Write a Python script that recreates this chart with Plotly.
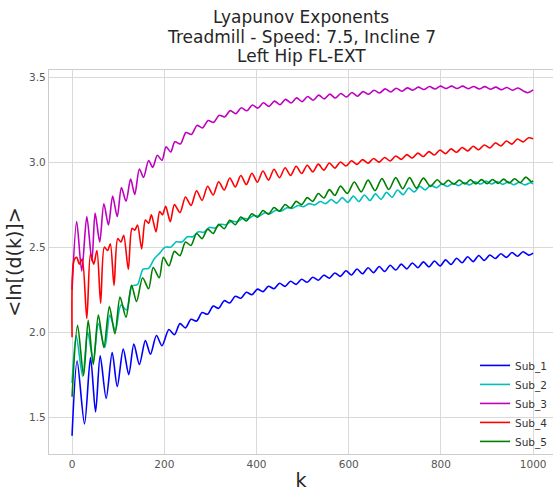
import plotly.graph_objects as go

# Lyapunov divergence curves, sampled at the peaks and troughs of each oscillation
SUB1_K = [0, 11, 27, 40, 51, 61, 74, 87, 98, 111, 123, 134, 146, 159, 170, 183, 195,
          210, 222, 234, 246, 258, 270, 282, 294, 306, 318, 330, 342, 354, 366, 378, 390,
          402, 414, 426, 438, 450, 462, 474, 486, 498, 510, 522, 534, 546, 558, 570, 582,
          594, 606, 618, 630, 642, 654, 666, 678, 690, 702, 714, 726, 738, 750, 762, 774,
          786, 798, 810, 822, 834, 846, 858, 870, 882, 894, 906, 918, 930, 942, 954, 966,
          978, 990, 1000]
SUB1_Y = [1.39, 1.83, 1.46, 1.85, 1.53, 1.86, 1.61, 1.88, 1.68, 1.90, 1.75, 1.93, 1.81, 1.95, 1.87, 1.98, 1.92,
          2.015, 1.985, 2.05, 2.025, 2.075, 2.065, 2.115, 2.105, 2.153, 2.14, 2.185, 2.171, 2.211, 2.199, 2.234, 2.22,
          2.253, 2.238, 2.27, 2.255, 2.287, 2.269, 2.299, 2.281, 2.311, 2.293, 2.323, 2.305, 2.335, 2.317, 2.348, 2.328,
          2.361, 2.336, 2.371, 2.343, 2.379, 2.35, 2.386, 2.357, 2.393, 2.365, 2.40, 2.372, 2.407, 2.379, 2.413, 2.384,
          2.418, 2.389, 2.425, 2.398, 2.435, 2.408, 2.443, 2.415, 2.451, 2.422, 2.454, 2.433, 2.461, 2.44, 2.468, 2.446,
          2.473, 2.453, 2.465]

SUB2_K = [0, 9, 23, 34, 46, 57, 71, 82, 94, 106, 118, 130, 142, 154, 166, 178, 190,
          202, 214, 226, 238, 250, 262, 274, 286, 298, 310, 322, 334, 346, 358, 370, 382,
          394, 406, 418, 430, 442, 454, 466, 478, 490, 502, 514, 526, 538, 550, 562, 574,
          586, 598, 610, 622, 634, 646, 658, 670, 682, 694, 706, 718, 730, 742, 754, 766,
          778, 790, 802, 814, 826, 838, 850, 862, 874, 886, 898, 910, 922, 934, 946, 958,
          970, 982, 994, 1000]
SUB2_Y = [1.70, 1.98, 1.74, 2.00, 1.83, 2.05, 1.91, 2.10, 2.01, 2.16, 2.13, 2.27, 2.28, 2.37, 2.375, 2.43, 2.465,
          2.50, 2.50, 2.531, 2.53, 2.561, 2.561, 2.59, 2.587, 2.616, 2.612, 2.634, 2.632, 2.653, 2.649, 2.669, 2.666,
          2.686, 2.682, 2.702, 2.697, 2.717, 2.712, 2.732, 2.728, 2.745, 2.738, 2.756, 2.748, 2.768, 2.756, 2.78, 2.759,
          2.791, 2.763, 2.80, 2.768, 2.807, 2.774, 2.813, 2.781, 2.822, 2.793, 2.836, 2.808, 2.848, 2.824, 2.858, 2.837,
          2.864, 2.849, 2.871, 2.857, 2.876, 2.862, 2.88, 2.866, 2.884, 2.871, 2.888, 2.871, 2.886, 2.869, 2.884, 2.867,
          2.882, 2.866, 2.879, 2.873]

SUB3_K = [0, 10, 21, 32, 43, 50, 60, 69, 79, 88, 98, 107, 117, 127, 136, 146, 155, 166, 175, 185, 195, 204, 214,
          223, 235, 247, 259, 271, 283, 295, 307, 319, 331, 343, 355, 367, 379, 391, 403, 415, 427, 439, 451,
          463, 475, 487, 499, 511, 523, 535, 547, 559, 571, 583, 595, 607, 619, 631, 643, 655, 667, 679, 691,
          703, 715, 727, 739, 751, 763, 775, 787, 799, 811, 823, 835, 847, 859, 871, 883, 895, 907, 919, 931,
          943, 955, 967, 979, 988, 1000]
SUB3_Y = [2.25, 2.65, 2.36, 2.68, 2.42, 2.70, 2.53, 2.755, 2.63, 2.80, 2.68, 2.85, 2.77, 2.90, 2.81, 2.96, 2.91,
          3.01, 2.97, 3.04, 3.01, 3.09, 3.06,
          3.12, 3.107, 3.174, 3.163, 3.216, 3.201, 3.245, 3.234, 3.276, 3.266, 3.303, 3.285, 3.32, 3.302, 3.336, 3.318,
          3.349, 3.328, 3.359, 3.338, 3.369, 3.348, 3.378, 3.356, 3.386, 3.364, 3.394, 3.372, 3.40, 3.377, 3.404, 3.383,
          3.41, 3.388, 3.415, 3.399, 3.423, 3.407, 3.431, 3.413, 3.435, 3.417, 3.437, 3.423, 3.441, 3.427, 3.445, 3.43,
          3.447, 3.433, 3.447, 3.433, 3.447, 3.432, 3.445, 3.43, 3.444, 3.429, 3.441, 3.426, 3.439, 3.423, 3.436,
          3.418, 3.408, 3.425]

SUB4_K = [0, 4, 10, 16, 22, 32, 40, 47, 54, 62, 70, 77, 83, 91, 99, 106, 112, 122, 130, 136, 142, 151, 159,
          166, 172, 182, 190, 196, 203, 213,
          222, 234, 246, 258, 270, 282, 294, 306, 318, 330, 342, 354, 366, 378, 390, 402, 414, 426, 438, 450,
          462, 474, 486, 498, 510, 522, 534, 546, 558, 570, 582, 594, 606, 618, 630, 642, 654, 666, 678, 690,
          702, 714, 726, 738, 750, 762, 774, 786, 798, 810, 822, 834, 846, 858, 870, 882, 894, 906, 918, 930,
          942, 954, 966, 978, 990, 1000]
SUB4_Y = [1.97, 2.42, 2.44, 2.40, 2.43, 2.08, 2.46, 2.40, 2.48, 2.17, 2.50, 2.48, 2.52, 2.275, 2.55, 2.53, 2.57,
          2.37, 2.61, 2.60, 2.63, 2.49, 2.66, 2.64, 2.69, 2.59, 2.71, 2.69, 2.74, 2.65,
          2.75, 2.703, 2.795, 2.745, 2.832, 2.775, 2.858, 2.807, 2.885, 2.836, 2.907, 2.854, 2.921, 2.868, 2.935,
          2.882, 2.948, 2.894, 2.958, 2.908, 2.967, 2.922, 2.976, 2.933, 2.982, 2.943, 2.988, 2.953, 2.995, 2.965,
          3.001, 2.977, 3.008, 2.987, 3.015, 2.994, 3.021, 3.0, 3.027, 3.007, 3.036, 3.016, 3.044, 3.024, 3.053,
          3.033, 3.062, 3.042, 3.071, 3.05, 3.078, 3.058, 3.086, 3.066, 3.093, 3.073, 3.101, 3.083, 3.113, 3.095,
          3.124, 3.106, 3.136, 3.119, 3.143, 3.138]

SUB5_K = [0, 12, 25, 35, 46, 57, 69, 81, 93, 104, 117, 129, 140, 153, 166, 176, 189, 198,
          210, 222, 234, 246, 258, 270, 282, 294, 306, 318, 330, 342, 354, 366, 378, 390, 402, 414, 426,
          438, 450, 462, 474, 486, 498, 510, 522, 534, 546, 558, 570, 582,
          597, 612, 627, 642, 657, 672, 687, 702, 717, 732, 747, 762, 777, 792,
          804, 816, 828, 840, 852, 864, 876, 888, 900, 912, 924, 936, 948, 960, 972, 984, 996, 1000]
SUB5_Y = [1.62, 2.04, 1.745, 2.07, 1.81, 2.10, 1.91, 2.15, 1.99, 2.206, 2.088, 2.275, 2.18, 2.32, 2.255, 2.38, 2.32, 2.44,
          2.39, 2.475, 2.45, 2.53, 2.51, 2.58, 2.55, 2.606, 2.58, 2.634, 2.608, 2.658, 2.632, 2.677, 2.654, 2.696, 2.676,
          2.715, 2.694, 2.733, 2.712, 2.751, 2.73, 2.769, 2.75, 2.791, 2.769, 2.815, 2.789, 2.838, 2.804, 2.859,
          2.816, 2.883, 2.825, 2.894, 2.832, 2.903, 2.839, 2.909, 2.843, 2.909, 2.847, 2.906, 2.857, 2.896,
          2.868, 2.893, 2.87, 2.895, 2.871, 2.896, 2.872, 2.897, 2.873, 2.898, 2.875, 2.90, 2.877, 2.902, 2.879,
          2.912, 2.885, 2.89]

SERIES = [
    ("Sub_1", SUB1_K, SUB1_Y, "#0000ff"),
    ("Sub_2", SUB2_K, SUB2_Y, "#00bfbf"),
    ("Sub_3", SUB3_K, SUB3_Y, "#bf00bf"),
    ("Sub_4", SUB4_K, SUB4_Y, "#ff0000"),
    ("Sub_5", SUB5_K, SUB5_Y, "#008000"),
]

TITLE_LINES = ["Lyapunov Exponents", "Treadmill - Speed: 7.5, Incline 7", "Left Hip FL-EXT"]
X_TICKS = [0, 200, 400, 600, 800, 1000]
Y_TICKS = [1.5, 2.0, 2.5, 3.0, 3.5]

FONT = "DejaVu Sans, Verdana, sans-serif"
W, H = 553, 491
M_L, M_R, M_T, M_B = 49, 0, 70, 37
PLOT_H = H - M_T - M_B

fig = go.Figure()
for name, k, y, color in SERIES:
    fig.add_trace(go.Scatter(
        x=k, y=y, name=name, mode="lines",
        line=dict(color=color, width=1.6, shape="spline", smoothing=0.8),
    ))

# three-line heading, centred over the plotting area
title_centres_px = [17, 36.5, 56]
for text, cy in zip(TITLE_LINES, title_centres_px):
    fig.add_annotation(
        text=text, xref="paper", yref="paper", x=0.5, y=1 + (M_T - cy) / PLOT_H,
        xanchor="center", yanchor="middle", showarrow=False,
        font=dict(family=FONT, size=17, color="#262626"),
    )

axis_common = dict(
    showgrid=True, gridcolor="#d9d9d9", gridwidth=1.2,
    zeroline=False, showline=True, linecolor="#cccccc", linewidth=1.2,
    ticks="", tickfont=dict(family=FONT, size=10.5, color="#555555"),
)
fig.update_xaxes(
    range=[-50, 1043], tickvals=X_TICKS, mirror=True,
    title=dict(text="k", font=dict(family=FONT, size=19, color="#262626"), standoff=6),
    **axis_common,
)
fig.update_yaxes(
    range=[1.283, 3.542], tickvals=Y_TICKS, tickformat=".1f", mirror=False,
    title=dict(text="<ln[(d(k)]>", font=dict(family=FONT, size=19, color="#262626"), standoff=2),
    **axis_common,
)

fig.update_layout(
    width=W, height=H,
    margin=dict(l=M_L, r=M_R, t=M_T, b=M_B, pad=0),
    paper_bgcolor="white", plot_bgcolor="white",
    showlegend=True,
    legend=dict(
        x=1.0, y=-0.005, xanchor="right", yanchor="bottom",
        bgcolor="rgba(255,255,255,0)", borderwidth=0,
        font=dict(family=FONT, size=10.5, color="#333333"),
    ),
)

fig.write_html("out.html")
